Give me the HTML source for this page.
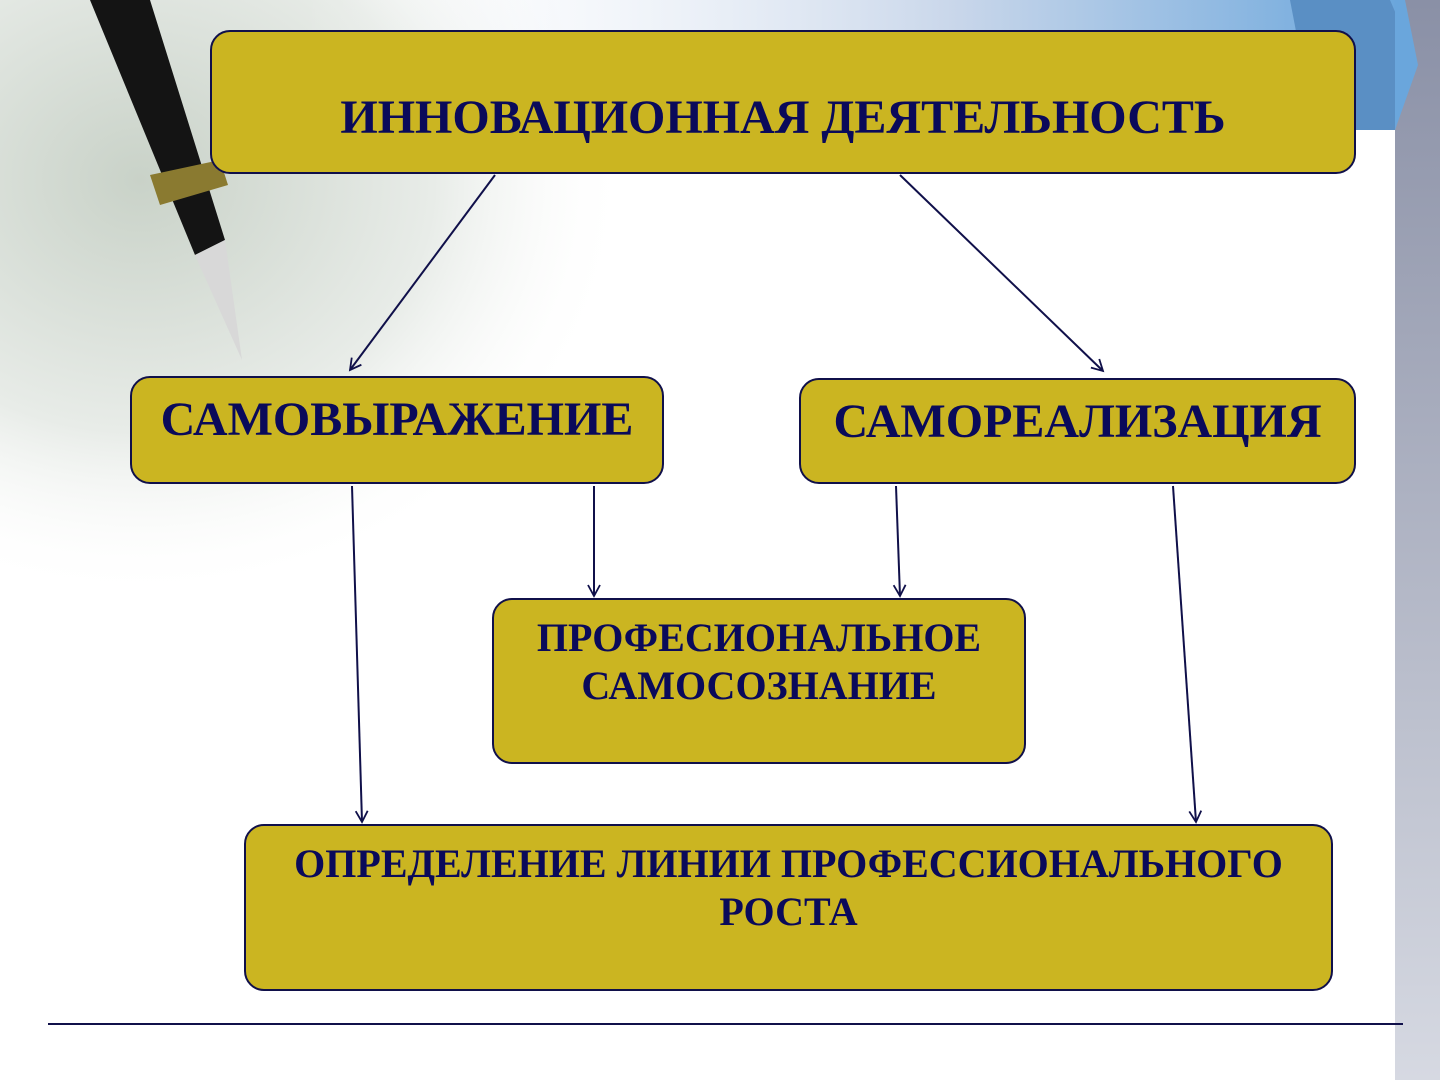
<!DOCTYPE html>
<html><head><meta charset="utf-8"><style>
html,body{margin:0;padding:0;}
body{width:1440px;height:1080px;position:relative;overflow:hidden;background:#fff;font-family:"Liberation Serif",serif;}
.box{position:absolute;background:#cbb521;border:2px solid #10104a;border-radius:20px;box-sizing:border-box;color:#0a0a5a;font-weight:bold;text-align:center;white-space:nowrap;}
</style></head><body>
<svg width="1440" height="1080" style="position:absolute;left:0;top:0">
<defs>
<linearGradient id="top" x1="0" y1="0" x2="1" y2="0">
<stop offset="0" stop-color="#fff" stop-opacity="0"/><stop offset="0.6" stop-color="#c8d6ea"/><stop offset="1" stop-color="#6aa6dc"/>
</linearGradient>
<linearGradient id="strip" x1="0" y1="0" x2="0" y2="1">
<stop offset="0" stop-color="#8a90a6"/><stop offset="1" stop-color="#d6d9e2"/>
</linearGradient>
<radialGradient id="fade" cx="0.2" cy="0.3" r="0.7">
<stop offset="0" stop-color="#c9d2c8"/><stop offset="0.6" stop-color="#e8ece8"/><stop offset="1" stop-color="#fff" stop-opacity="0"/>
</radialGradient>
<marker id="a" markerWidth="14" markerHeight="14" refX="12" refY="7" orient="auto" markerUnits="userSpaceOnUse">
<path d="M1,1 L12,7 L1,13" fill="none" stroke="#10104a" stroke-width="1.8"/>
</marker>
</defs>
<rect x="0" y="0" width="700" height="600" fill="url(#fade)"/>
<rect x="300" y="0" width="1100" height="130" fill="url(#top)"/>
<polygon points="1290,0 1390,0 1418,65 1395,130 1315,130" fill="#5a8fc4"/>
<rect x="1395" y="0" width="45" height="1080" fill="url(#strip)"/>
<polygon points="1395,0 1405,0 1418,65 1395,130" fill="#6aa6dc"/>
<polygon points="90,0 150,0 225,240 195,255" fill="#141414"/>
<polygon points="150,175 220,160 228,185 160,205" fill="#8a7a30"/>
<polygon points="195,255 225,240 242,360" fill="#d8d8d8"/>
<g stroke="#10104a" stroke-width="2" fill="none" marker-end="url(#a)">
<line x1="495" y1="175" x2="350" y2="370"/>
<line x1="900" y1="175" x2="1103" y2="371"/>
<line x1="352" y1="486" x2="362" y2="822"/>
<line x1="594" y1="486" x2="594" y2="596"/>
<line x1="896" y1="486" x2="900" y2="596"/>
<line x1="1173" y1="486" x2="1196" y2="822"/>
</g>
<line x1="48" y1="1024" x2="1403" y2="1024" stroke="#10104a" stroke-width="2"/>
</svg>
<div class="box" style="left:210px;top:30px;width:1146px;height:144px;font-size:48px;line-height:48px;padding-top:62px;">ИННОВАЦИОННАЯ ДЕЯТЕЛЬНОСТЬ</div>
<div class="box" style="left:130px;top:376px;width:534px;height:108px;font-size:48px;line-height:48px;padding-top:18px;">САМОВЫРАЖЕНИЕ</div>
<div class="box" style="left:799px;top:378px;width:557px;height:106px;font-size:48px;line-height:48px;padding-top:18px;">САМОРЕАЛИЗАЦИЯ</div>
<div class="box" style="left:492px;top:598px;width:534px;height:166px;font-size:40px;line-height:48px;padding-top:14px;">ПРОФЕСИОНАЛЬНОЕ<br>САМОСОЗНАНИЕ</div>
<div class="box" style="left:244px;top:824px;width:1089px;height:167px;font-size:40px;line-height:48px;padding-top:14px;">ОПРЕДЕЛЕНИЕ ЛИНИИ ПРОФЕССИОНАЛЬНОГО<br>РОСТА</div>
</body></html>
